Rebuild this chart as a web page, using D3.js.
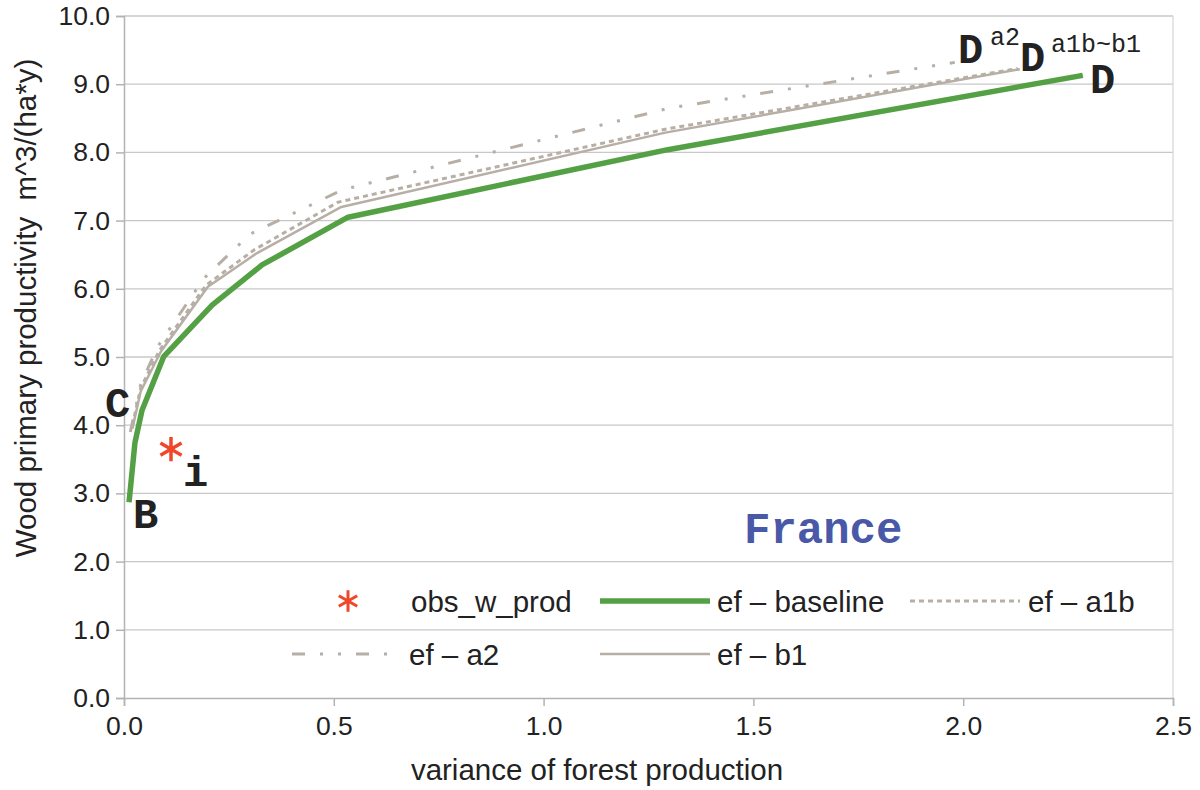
<!DOCTYPE html>
<html lang="en">
<head>
<meta charset="UTF-8">
<title>Wood productivity vs variance - France</title>
<script src="https://d3js.org/d3.v7.min.js"></script>
<style>
    body{ margin:0; background:#fff; }
    text{ font-family:"Liberation Sans", Arial, sans-serif; fill:#222; }
    .mono{ font-family:"Liberation Mono", "Courier New", monospace; }
</style>
</head>
<body>
<svg id="canvas" width="1200" height="790"></svg>
<script>
    // tick values
    const xTicks = [0, 0.5, 1.0, 1.5, 2.0, 2.5];
    const yTicks = [0, 1, 2, 3, 4, 5, 6, 7, 8, 9, 10];

    // series (x = variance, y = productivity)
    const baselineX = [0.012, 0.026, 0.043, 0.095, 0.21, 0.329, 0.534, 1.296, 2.285];
    const baselineY = [2.87, 3.74, 4.22, 5.01, 5.76, 6.35, 7.05, 8.04, 9.13];
    const a1bX = [0.02, 0.04, 0.085, 0.195, 0.31, 0.51, 1.29, 2.13];
    const a1bY = [4.0, 4.55, 5.1, 6.05, 6.57, 7.27, 8.34, 9.23];
    const a2X = [0.015, 0.04, 0.08, 0.19, 0.30, 0.52, 1.30, 1.98];
    const a2Y = [3.9, 4.6, 5.15, 6.15, 6.8, 7.45, 8.65, 9.32];
    const b1X = [0.02, 0.04, 0.088, 0.20, 0.316, 0.518, 1.29, 2.135];
    const b1Y = [3.95, 4.5, 5.08, 6.03, 6.52, 7.2, 8.29, 9.22];
    const obsX = [0.112];
    const obsY = [3.65];

    const svg = d3.select("#canvas");
    const x = d3.scaleLinear().domain([0, 2.5]).range([124, 1173]);
    const y = d3.scaleLinear().domain([0, 10]).range([698, 16]);

    const red = "#f0462a", green = "#54a044", grey = "#b7afa6";

    // grid
    svg.append("g").selectAll("line")
        .data(yTicks.slice(1)).enter().append("line")
        .attr("x1", x(0)).attr("x2", x(2.5))
        .attr("y1", d => y(d)).attr("y2", d => y(d))
        .attr("stroke", "#c8c8c8").attr("stroke-width", 1.3);
    svg.append("line")
        .attr("x1", x(2.5)).attr("x2", x(2.5)).attr("y1", y(10)).attr("y2", y(0))
        .attr("stroke", "#d8d8d8").attr("stroke-width", 1.3);

    // axes
    const xAxis = svg.append("g").attr("transform", `translate(0,${y(0)})`)
        .call(d3.axisBottom(x).tickValues(xTicks).tickFormat(d3.format(".1f")).tickSize(8).tickPadding(10));
    const yAxis = svg.append("g").attr("transform", `translate(${x(0)},0)`)
        .call(d3.axisLeft(y).tickValues(yTicks).tickFormat(d3.format(".1f")).tickSize(8).tickPadding(6));
    [xAxis, yAxis].forEach(g => {
        g.select(".domain").attr("stroke", "#b3b3b3").attr("stroke-width", 1.5);
        g.selectAll(".tick line").attr("stroke", "#b3b3b3").attr("stroke-width", 1.5);
        g.selectAll(".tick text").attr("font-size", 26.5).attr("fill", "#222")
            .attr("font-family", "Liberation Sans, Arial, sans-serif");
    });

    svg.append("text").attr("x", 597).attr("y", 780).attr("text-anchor", "middle")
        .attr("font-size", 29.5).text("variance of forest production");
    svg.append("text").attr("transform", "translate(36,308) rotate(-90)")
        .attr("text-anchor", "middle").attr("font-size", 29.5)
        .style("white-space", "pre").text("Wood primary productivity  m^3/(ha*y)");

    // lines
    const line = d3.line().x(d => x(d[0])).y(d => y(d[1]));
    const zip = (xs, ys) => xs.map((v, i) => [v, ys[i]]);
    const series = [
        {name: "ef – a2", pts: zip(a2X, a2Y), color: grey, w: 3, dash: "13,15,3,15,3,15"},
        {name: "ef – a1b", pts: zip(a1bX, a1bY), color: grey, w: 3, dash: "5,4"},
        {name: "ef – b1", pts: zip(b1X, b1Y), color: grey, w: 2.5, dash: null},
        {name: "ef – baseline", pts: zip(baselineX, baselineY), color: green, w: 5.5, dash: null}
    ];
    svg.append("g").selectAll("path").data(series).enter().append("path")
        .attr("d", d => line(d.pts))
        .attr("fill", "none")
        .attr("stroke", d => d.color)
        .attr("stroke-width", d => d.w)
        .attr("stroke-dasharray", d => d.dash)
        .attr("stroke-linejoin", "round");

    // observation
    const star = d3.symbol().type(d3.symbolAsterisk).size(420);
    svg.append("g").selectAll("path").data(zip(obsX, obsY)).enter().append("path")
        .attr("transform", d => `translate(${x(d[0])},${y(d[1])})`)
        .attr("d", star).attr("fill", "none").attr("stroke", red).attr("stroke-width", 3.5);

    // point labels
    const lab = (tx, ty, s, size, bold) => svg.append("text").attr("class", "mono")
        .attr("x", tx).attr("y", ty).attr("font-size", size)
        .attr("font-weight", bold ? "bold" : "normal").text(s);
    lab(105, 417, "C", 42, true);
    lab(133, 528, "B", 42, true);
    lab(183, 486, "i", 42, true);
    lab(1090, 93, "D", 42, true);
    lab(958, 63, "D", 42, true);
    lab(990, 45, "a2", 25, false);
    lab(1020, 71, "D", 42, true);
    lab(1051, 52, "a1b~b1", 25, false);

    svg.append("text").attr("class", "mono").attr("x", 744).attr("y", 543)
        .attr("font-size", 44).attr("font-weight", "bold").style("fill", "#4a58a8").text("France");

    // legend
    const legend = [
        {name: "obs_w_prod", sx: 292, sy: 601, tx: 411, type: "star"},
        {name: "ef – baseline", sx: 600, sy: 601, tx: 717, s: series[3]},
        {name: "ef – a1b", sx: 910, sy: 601, tx: 1028, s: series[1]},
        {name: "ef – a2", sx: 292, sy: 654, tx: 409, s: series[0]},
        {name: "ef – b1", sx: 600, sy: 654, tx: 717, s: series[2]}
    ];
    legend.forEach(l => {
        if (l.type === "star") {
            svg.append("path").attr("transform", `translate(348,${l.sy})`)
                .attr("d", d3.symbol().type(d3.symbolAsterisk).size(320))
                .attr("fill", "none").attr("stroke", red).attr("stroke-width", 3);
        } else {
            svg.append("line").attr("x1", l.sx).attr("x2", l.sx + 110)
                .attr("y1", l.sy).attr("y2", l.sy)
                .attr("stroke", l.s.color).attr("stroke-width", l.s.w)
                .attr("stroke-dasharray", l.s.dash);
        }
        svg.append("text").attr("x", l.tx).attr("y", l.sy + 10.5).attr("font-size", 29.5).text(l.name);
    });
</script>
</body>
</html>
